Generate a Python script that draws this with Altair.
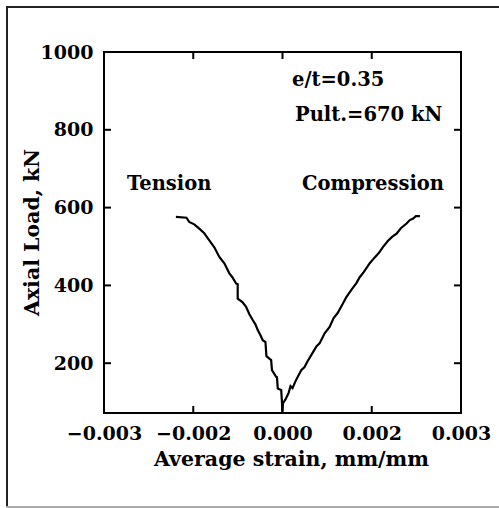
import altair as alt
import pandas as pd

# ---- data ----
tension_strain = [-0.002389, -0.002151, -0.002090, -0.001978, -0.001865, -0.001753, -0.001640,
                  -0.001528, -0.001416, -0.001303, -0.001191, -0.001124, -0.001040, -0.001004,
                  -0.001004, -0.000899, -0.000816, -0.000742, -0.000667, -0.000607, -0.000555,
                  -0.000494, -0.000443, -0.000382, -0.000360, -0.000254, -0.000236, -0.000142,
                  -0.000124, -0.000106, -0.000029, -0.000011, -0.000007]
tension_load = [576, 574, 563, 557, 546, 534, 516, 498, 473, 457, 431, 421, 405, 403, 366, 357,
                345, 326, 311, 300, 285, 272, 259, 254, 218, 208, 182, 165, 164, 135, 131, 97, 79]

compression_strain = [-0.000007, 0.000011, 0.000067, 0.000135, 0.000180, 0.000225, 0.000292,
                      0.000420, 0.000494, 0.000562, 0.000681, 0.000764, 0.000831, 0.000944,
                      0.001056, 0.001146, 0.001236, 0.001348, 0.001431, 0.001551, 0.001656,
                      0.001730, 0.001820, 0.001955, 0.002067, 0.002157, 0.002254, 0.002360,
                      0.002449, 0.002555, 0.002652, 0.002780, 0.002854, 0.002928, 0.002989,
                      0.003079]
compression_load = [75, 97, 107, 123, 141, 136, 154, 182, 190, 205, 228, 244, 251, 277, 293, 316,
                    329, 352, 370, 390, 406, 421, 434, 457, 472, 483, 499, 514, 524, 533, 547,
                    559, 568, 572, 578, 578]

x_label_values = [-0.004, -0.002, 0.0, 0.002, 0.004]
x_inner_ticks = [-0.002, 0.0, 0.002]
y_label_values = [200, 400, 600, 800, 1000]
y_inner_ticks = [200, 400, 600, 800]

annotation_texts = ["e/t=0.35", "Pult.=670 kN", "Tension", "Compression"]

# ---- layout ----
W, H = 357, 361
FONT = "DejaVu Serif"
TICK = 7
LABEL_SIZE = 19
TITLE_SIZE = 20.5
TEXT_SIZE = 19.5

curves = pd.DataFrame({
    "strain": tension_strain + compression_strain,
    "load": tension_load + compression_load,
    "series": ["Tension"] * len(tension_strain) + ["Compression"] * len(compression_strain),
    "order": list(range(len(tension_strain))) + list(range(len(compression_strain))),
})

xscale = alt.Scale(domain=[-0.004, 0.004], nice=False, zero=False)
yscale = alt.Scale(domain=[72, 1000], nice=False, zero=False)

x_axis = alt.Axis(
    values=x_label_values,
    labelExpr="datum.value <= -0.0035 ? '\u22120.003' : (datum.value >= 0.0035 ? '0.003' : format(datum.value, '.3f'))",
    labelFont=FONT, labelFontWeight="bold", labelFontSize=LABEL_SIZE, labelColor="black",
    labelPadding=11, labelFlush=False, labelOverlap=False,
    ticks=False, domain=False, grid=False,
    title="Average strain, mm/mm", titleFont=FONT, titleFontWeight="bold", titleFontSize=TITLE_SIZE,
    titleColor="black", titleX=187, titleY=52, titleBaseline="alphabetic", titleAnchor="middle",
)
y_axis = alt.Axis(
    values=y_label_values, format="d",
    labelFont=FONT, labelFontWeight="bold", labelFontSize=LABEL_SIZE, labelColor="black",
    labelPadding=11, labelFlush=False, labelOverlap=False,
    ticks=False, domain=False, grid=False,
    title="Axial Load, kN", titleFont=FONT, titleFontWeight="bold", titleFontSize=TITLE_SIZE,
    titleColor="black", titleX=-72, titleY=180, titleBaseline="middle", titleAlign="center",
    titleAngle=270,
)

def xenc(field):
    return alt.X(field, type="quantitative", scale=xscale, axis=x_axis)

def yenc(field):
    return alt.Y(field, type="quantitative", scale=yscale, axis=y_axis)

line = alt.Chart(curves).mark_line(color="black", strokeWidth=2.2, strokeJoin="miter").encode(
    x=xenc("strain"), y=yenc("load"), detail="series:N", order="order:Q"
)

xt = pd.DataFrame({"strain": x_inner_ticks})
yt = pd.DataFrame({"load": y_inner_ticks})

tick_bottom = alt.Chart(xt).mark_rule(color="black", strokeWidth=2).encode(
    x=xenc("strain"), y=alt.value(H - TICK), y2=alt.value(H))
tick_top = alt.Chart(xt).mark_rule(color="black", strokeWidth=2).encode(
    x=xenc("strain"), y=alt.value(0), y2=alt.value(TICK))
tick_left = alt.Chart(yt).mark_rule(color="black", strokeWidth=2).encode(
    y=yenc("load"), x=alt.value(0), x2=alt.value(TICK))
tick_right = alt.Chart(yt).mark_rule(color="black", strokeWidth=2).encode(
    y=yenc("load"), x=alt.value(W - TICK), x2=alt.value(W))

text_pos = [(188, 34), (191, 69), (23, 138), (198, 138)]
texts = []
for t, (px, py) in zip(annotation_texts, text_pos):
    texts.append(
        alt.Chart(alt.Data(values=[{"label": t}])).mark_text(
            font=FONT, fontWeight="bold", fontSize=TEXT_SIZE, color="black",
            align="left", baseline="alphabetic"
        ).encode(x=alt.value(px), y=alt.value(py), text="label:N")
    )

one = alt.Data(values=[{"k": 1}])
frame_left = alt.Chart(one).mark_rule(color="#222222", strokeWidth=2).encode(
    x=alt.value(-97), y=alt.value(-45), y2=alt.value(455))
frame_top = alt.Chart(one).mark_rule(color="#222222", strokeWidth=2).encode(
    x=alt.value(-98), x2=alt.value(400), y=alt.value(-45))
frame_bottom = alt.Chart(one).mark_rule(color="#aaaaaa", strokeWidth=2).encode(
    x=alt.value(-98), x2=alt.value(400), y=alt.value(455))

chart = alt.layer(
    line, tick_bottom, tick_top, tick_left, tick_right, *texts,
    frame_left, frame_top, frame_bottom
).properties(
    width=W, height=H,
    autosize=alt.AutoSizeParams(type="none"),
    padding={"left": 104, "top": 52, "right": 38, "bottom": 95},
    background="white",
).configure_view(stroke="black", strokeWidth=2)

chart.save("out.html", embed_options={"renderer": "svg", "actions": False})
